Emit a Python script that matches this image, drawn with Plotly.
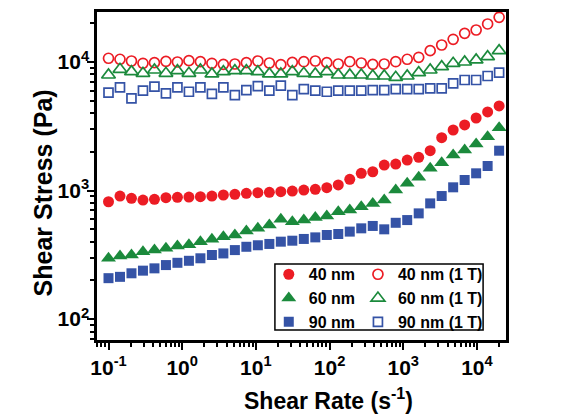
import plotly.graph_objects as go

# Shear rate (s^-1), shared by all series
shear_rate = [0.1, 0.1432, 0.2050, 0.2935, 0.4203, 0.6018, 0.8619, 1.234, 1.767, 2.530,
              3.622, 5.187, 7.427, 10.63, 15.23, 21.80, 31.22, 44.70, 64.01, 91.66,
              131.2, 187.9, 269.1, 385.3, 551.7, 789.9, 1131, 1620, 2319, 3321,
              4753, 6806, 9745, 13953, 19980]

stress_40 = [818, 906, 869, 843, 855, 880, 885, 890, 895, 906,
             923, 934, 951, 962, 968, 980, 991, 1009, 1021, 1052,
             1105, 1223, 1361, 1400, 1578, 1607, 1726, 1812, 2041, 2578,
             2958, 3236, 3667, 4084, 4550]
stress_60 = [297, 309, 315, 334, 345, 355, 370, 379, 400, 417,
             437, 451, 484, 508, 540, 597, 572, 589, 618, 633,
             684, 705, 748, 794, 843, 1009, 1138, 1268, 1489, 1646,
             1888, 2065, 2300, 2624, 3083]
stress_90 = [208, 213, 227, 238, 248, 263, 274, 284, 297, 315,
             324, 344, 365, 375, 384, 400, 407, 420, 432, 451,
             459, 479, 508, 530, 499, 561, 589, 664, 794, 906,
             1059, 1208, 1361, 1552, 2041]
stress_40_1T = [10690, 10500, 10180, 9770, 9880, 10120, 10000, 10240, 10050, 9770,
                9590, 9650, 9880, 10180, 9820, 9530, 9940, 10050, 10180, 9880,
                9650, 10050, 9820, 9590, 9650, 10050, 10500, 10880, 12250, 13560,
                15020, 16710, 17740, 19760, 22280]
stress_60_1T = [7924, 8770, 8410, 8170, 8665, 8170, 8560, 8170, 8665, 8070,
                8410, 8560, 8560, 8410, 8070, 8070, 8410, 8170, 8070, 8410,
                7924, 7924, 7924, 7780, 7780, 7600, 7780, 8260, 8665, 9200,
                9770, 10000, 10370, 11000, 12240]
stress_90_1T = [5770, 6350, 5210, 5990, 6430, 5700, 6350, 5870, 6350, 5640,
                6350, 5530, 6050, 6500, 5990, 6540, 5530, 6140, 5990, 5870,
                5990, 5990, 5990, 6050, 6050, 6140, 6140, 6140, 6240, 6240,
                6820, 7240, 7240, 7780, 8260]

x_tickvals = [0.1, 1, 10, 100, 1000, 10000]
x_ticktext = ["10<sup>-1</sup>", "10<sup>0</sup>", "10<sup>1</sup>", "10<sup>2</sup>",
              "10<sup>3</sup>", "10<sup>4</sup>"]
y_tickvals = [100, 1000, 10000]
y_ticktext = ["10<sup>2</sup>", "10<sup>3</sup>", "10<sup>4</sup>"]

x_title = "Shear Rate (s<sup>-1</sup>)"
y_title = "Shear Stress (Pa)"

RED = "#EC1C24"
GREEN = "#1B8A3C"
BLUE = "#3553A6"

FONT = "Liberation Sans, Arial, sans-serif"

fig = go.Figure()

def add(y, name, color, symbol, size, legend, open_=False):
    if open_:
        marker = dict(symbol=symbol + "-open", size=size, color=color,
                      line=dict(color=color, width=1.7))
    else:
        marker = dict(symbol=symbol, size=size, color=color, line=dict(width=0))
    fig.add_trace(go.Scatter(x=shear_rate, y=y, mode="markers", name=name,
                             marker=marker, legend=legend))

add(stress_40, "40 nm", RED, "circle", 11, "legend")
add(stress_60, "60 nm", GREEN, "triangle-up", 13, "legend")
add(stress_90, "90 nm", BLUE, "square", 10, "legend")
add(stress_40_1T, "40 nm (1 T)", RED, "circle", 10, "legend2", True)
add(stress_60_1T, "60 nm (1 T)", GREEN, "triangle-up", 12, "legend2", True)
add(stress_90_1T, "90 nm (1 T)", BLUE, "square", 9, "legend2", True)

axis_common = dict(
    showline=True, linecolor="black", linewidth=2.5, mirror=True,
    ticks="outside", ticklen=7, tickwidth=2, tickcolor="black",
    showgrid=False, zeroline=False, automargin=False,
    tickfont=dict(family=FONT, size=21, color="black", weight="bold"),
    minor=dict(ticks="outside", ticklen=4, tickwidth=1.5, tickcolor="black",
               dtick="D1", showgrid=False),
)

LEGEND_FONT = dict(family=FONT, size=16, color="black", weight="bold")

# the page body adds an 8px offset, so margins are shifted to compensate
fig.update_layout(
    width=570, height=420,
    margin=dict(l=89, r=72, t=4, b=88),
    plot_bgcolor="white", paper_bgcolor="white",
    xaxis=dict(type="log", range=[-1.156, 4.394], tickvals=x_tickvals, ticktext=x_ticktext,
               **axis_common),
    yaxis=dict(type="log", range=[1.837, 4.389], tickvals=y_tickvals, ticktext=y_ticktext,
               ticklabelstandoff=-6, **axis_common),
    legend=dict(x=0.42, y=0.252, xanchor="left", yanchor="top",
                bgcolor="rgba(0,0,0,0)", borderwidth=0, tracegroupgap=0,
                font=LEGEND_FONT),
    legend2=dict(x=0.638, y=0.252, xanchor="left", yanchor="top",
                 bgcolor="rgba(0,0,0,0)", borderwidth=0, tracegroupgap=0,
                 font=LEGEND_FONT),
    shapes=[dict(type="rect", xref="paper", yref="paper", x0=0.435, x1=0.944,
                 y0=0.0305, y1=0.2317, line=dict(color="black", width=1.5),
                 fillcolor="white", layer="below")],
    annotations=[
        dict(text=x_title, xref="paper", yref="paper", x=0.565, y=-0.18,
             xanchor="center", yanchor="middle", showarrow=False,
             font=dict(family=FONT, size=23, color="black", weight="bold")),
        dict(text=y_title, xref="paper", yref="paper", x=-0.132, y=0.447,
             xanchor="center", yanchor="middle", showarrow=False, textangle=-90,
             font=dict(family=FONT, size=25, color="black", weight="bold")),
    ],
)

fig.write_html("out.html")
